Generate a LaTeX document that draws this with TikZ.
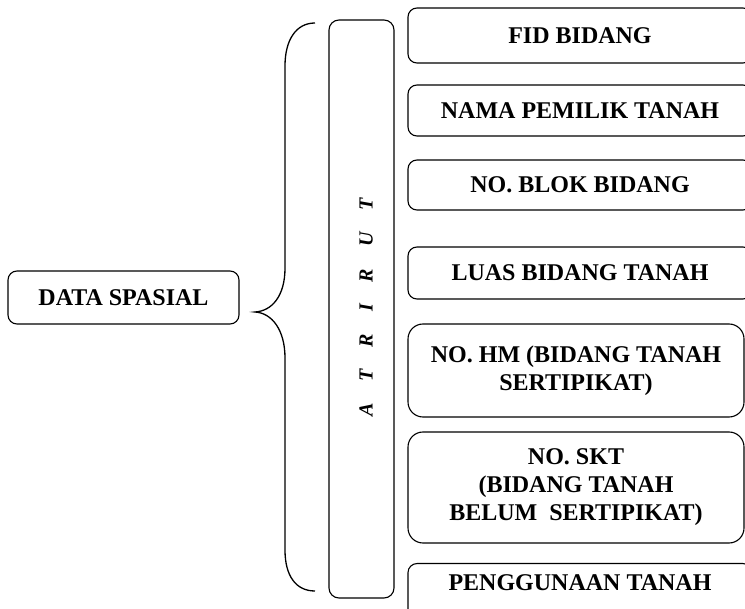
\documentclass[tikz,border=0pt]{standalone}
\usepackage{fontspec}
\setmainfont{Liberation Serif}
\begin{document}
\begin{tikzpicture}[x=1pt,y=-1pt,
  line width=1.1pt,
  box/.style={draw, rounded corners=9pt, align=center, inner sep=0pt,
    font=\fontsize{24}{28}\selectfont\bfseries},
  bigbox/.style={box, rounded corners=15pt},
  rbox/.style={box, minimum width=344pt},
  bracepath/.style={line width=1.3pt}
]
\clip (0,0) rectangle (745,609);
\fill[white] (0,0) rectangle (745,609);

% left box
\node[box, minimum width=231pt, minimum height=53pt] (ds) at (123.5,297.5) {DATA SPASIAL};

% attribute column
\node[draw, rounded corners=10pt, minimum width=65pt, minimum height=578pt, inner sep=0pt] (atr) at (361.5,309) {};
\node[rotate=90, inner sep=0pt, font=\fontsize{20}{24}\selectfont\bfseries\itshape] (atrtxt) at (366,307.5)
  {A\hspace{22pt}T\hspace{22pt}R\hspace{22pt}I\hspace{22pt}R\hspace{22pt}U\hspace{22pt}T};

% brace
\draw[bracepath] (315,23) .. controls (296,23) and (285,40) .. (285,66)
  -- (285,268) .. controls (285,296) and (272,311) .. (255,312)
  .. controls (272,313) and (285,330) .. (285,358)
  -- (285,550) .. controls (285,576) and (296,591) .. (315,591);

% right boxes
\node[rbox, minimum height=55pt] (b1) at (580,35.5) {FID BIDANG};
\node[rbox, minimum height=51pt] (b2) at (580,110.5) {NAMA PEMILIK TANAH};
\node[rbox, minimum height=50pt] (b3) at (580,185) {NO. BLOK BIDANG};
\node[rbox, minimum height=52pt] (b4) at (580,273) {LUAS BIDANG TANAH};
\node[bigbox, minimum width=336pt, minimum height=93pt] (b5) at (576,370.5)
  {NO. HM (BIDANG TANAH\\SERTIPIKAT)};
\node[bigbox, minimum width=336pt, minimum height=111pt] (b6) at (576,487.5)
  {NO. SKT\\(BIDANG TANAH\\BELUM\ \ SERTIPIKAT)};
\node[rbox, anchor=north, inner ysep=11pt, text depth=40pt] (b7) at (580,563) {PENGGUNAAN TANAH};
\end{tikzpicture}
\end{document}
